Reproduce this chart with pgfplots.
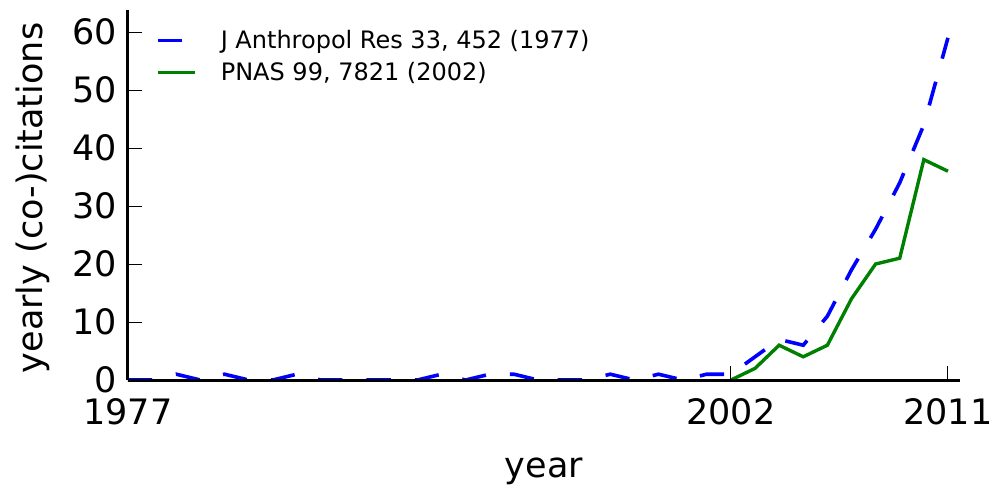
\documentclass[border=0pt]{standalone}
\usepackage{fontspec}
\setmainfont{DejaVu Sans}
\usepackage{pgfplots}
\pgfplotsset{compat=1.18}
\definecolor{mplgreen}{RGB}{0,128,0}
\definecolor{mplblue}{RGB}{0,0,255}
\begin{document}
\begin{tikzpicture}
\useasboundingbox (-128pt,-110pt) rectangle (873pt,380pt);
\begin{axis}[
  at={(0pt,0pt)}, anchor=south west,
  scale only axis, width=832pt, height=370pt,
  xmin=1977, xmax=2011.5, ymin=0, ymax=63.8,
  axis x line*=bottom, axis y line*=left,
  axis line style={line width=3pt},
  axis on top, clip=false,
  xtick={1977,2002,2011}, xticklabels={1977,2002,2011},
  ytick={0,10,20,30,40,50,60},
  /pgf/number format/assume math mode=true,
  tick align=inside, major tick length=14pt,
  tick style={line width=1pt, black},
  tick label style={font=\fontsize{35}{42}\selectfont},
  yticklabel style={anchor=east, inner sep=0pt, xshift=-11pt},
  xticklabel style={anchor=base, inner sep=0pt, yshift=-44pt},
  label style={font=\fontsize{35}{42}\selectfont},
  xlabel={year},
  xlabel style={at={(axis description cs:0.5,0)}, anchor=base, yshift=-97pt},
  ylabel={yearly (co-)citations},
  ylabel style={at={(axis description cs:-0.1142,0.492)}, anchor=center},
  legend cell align=left,
  legend style={draw=none, fill=none, at={(axis description cs:0,1)}, anchor=north west,
    xshift=28pt, yshift=-20.5pt, inner sep=0pt, row sep=12pt,
    font=\fontsize{24}{29}\selectfont,
    nodes={inner sep=0pt},
    /tikz/every odd column/.style={column sep=24pt}},
  legend image code/.code={\draw[#1] (0pt,0pt) -- (37pt,0pt);},
]
\addplot[mplblue, line width=3.6pt, dash pattern=on 24.5pt off 24pt] table {
x y
1977 0
1978 0
1979 1
1980 0
1981 1
1982 0
1983 0
1984 1
1985 0
1986 0
1987 0
1988 0
1989 0
1990 1
1991 0
1992 1
1993 1
1994 0
1995 0
1996 0
1997 1
1998 0
1999 1
2000 0
2001 1
2002 1
2003 4
2004 7
2005 6
2006 11
2007 19
2008 26
2009 34
2010 44
2011 59
};
\addlegendentry{J Anthropol Res 33, 452 (1977)}
\addplot[mplgreen, line width=3.4pt] table {
x y
2002 0
2003 2
2004 6
2005 4
2006 6
2007 14
2008 20
2009 21
2010 38
2011 36
};
\addlegendentry{PNAS 99, 7821 (2002)}
\end{axis}
\end{tikzpicture}
\end{document}
